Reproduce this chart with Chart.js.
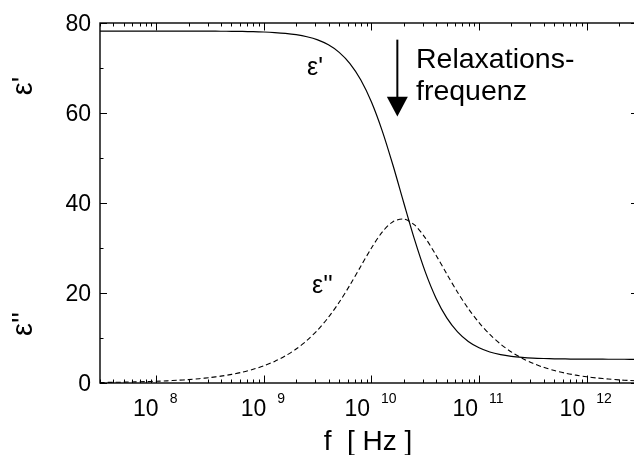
<!DOCTYPE html>
<html><head><meta charset="utf-8">
<style>
html,body{margin:0;padding:0;background:#fff;overflow:hidden;width:634px;height:455px}
#wrap{position:relative;width:642px;height:455px}
canvas{display:block}
</style>
<script src="https://cdn.jsdelivr.net/npm/chart.js@4.4.1/dist/chart.umd.min.js"></script>
</head><body><div id="wrap"><canvas id="c" width="642" height="455"></canvas></div>
<script>
// log10 of frequency in Hz
const logFreq = [7.4,7.5,7.6,7.7,7.8,7.9,8.0,8.1,8.2,8.3,8.4,8.5,8.6,8.7,8.8,8.9,9.0,9.1,9.2,9.3,9.4,9.5,9.6,9.7,9.8,9.9,10.0,10.1,10.2,10.3,10.4,10.5,10.6,10.7,10.8,10.9,11.0,11.1,11.2,11.3,11.4,11.5,11.6,11.7,11.8,11.9,12.0,12.1,12.2,12.3,12.4,12.5];
// epsilon' (solid)
const epsReal = [78.20,78.20,78.20,78.20,78.20,78.20,78.20,78.20,78.19,78.19,78.19,78.18,78.17,78.15,78.12,78.07,78.00,77.88,77.70,77.41,76.95,76.25,75.15,73.48,70.99,67.40,62.45,56.04,48.38,40.06,31.91,24.70,18.86,14.48,11.37,9.24,7.83,6.90,6.31,5.93,5.69,5.53,5.44,5.38,5.34,5.31,5.30,5.29,5.28,5.28,5.27,5.27];
// epsilon'' (dashed)
const epsImag = [0.10,0.12,0.15,0.19,0.24,0.30,0.38,0.48,0.61,0.76,0.96,1.21,1.52,1.92,2.41,3.04,3.82,4.80,6.03,7.55,9.45,11.78,14.60,17.94,21.76,25.90,30.01,33.54,35.85,36.43,35.12,32.24,28.40,24.23,20.18,16.54,13.41,10.79,8.64,6.90,5.50,4.38,3.48,2.77,2.20,1.75,1.39,1.10,0.88,0.70,0.55,0.44];
const xTickExponents = [8,9,10,11,12];
const yTickLabels = [0,20,40,60,80];
const yMinorTicks = [10,30,50,70];
const relaxFreq = 1.74e10;

const FONT = '"Liberation Sans", Arial, Helvetica, sans-serif';

const frame = {
  id: 'frame',
  afterDraw(chart) {
    const {ctx, chartArea: a, scales: {x, y}} = chart;
    ctx.save();
    ctx.strokeStyle = '#000';
    ctx.fillStyle = '#000';
    const line = (x1, y1, x2, y2) => { ctx.beginPath(); ctx.moveTo(x1, y1); ctx.lineTo(x2, y2); ctx.stroke(); };
    // frame
    ctx.lineWidth = 1.4;
    ctx.strokeRect(a.left, a.top, a.right - a.left, a.bottom - a.top);
    // x ticks (major + minor), bottom and top, pointing inwards
    ctx.lineWidth = 1;
    for (let e = 7; e <= 12; e++) {
      for (let k = 1; k <= 9; k++) {
        const v = k * Math.pow(10, e);
        if (v < x.min || v > x.max) continue;
        const px = Math.round(x.getPixelForValue(v)) + 0.5;
        const len = k === 1 ? 7.5 : 3.5;
        line(px, a.bottom, px, a.bottom - len);
        line(px, a.top, px, a.top + len);
      }
    }
    // y ticks
    const yt = yTickLabels.map(v => [v, 7]).concat(yMinorTicks.map(v => [v, 3.5]));
    for (const [v, len] of yt) {
      const py = Math.round(y.getPixelForValue(v)) + 0.5;
      line(a.left, py, a.left + len, py);
      line(a.right, py, a.right - len, py);
    }
    // y tick labels
    ctx.font = '23px ' + FONT;
    ctx.textAlign = 'right';
    ctx.textBaseline = 'middle';
    for (const v of yTickLabels) {
      ctx.fillText(String(v), a.left - 9, y.getPixelForValue(v) + 1.5);
    }
    // x tick labels: "10" with superscript exponent
    ctx.textBaseline = 'alphabetic';
    ctx.textAlign = 'left';
    for (const e of xTickExponents) {
      const px = x.getPixelForValue(Math.pow(10, e));
      ctx.font = '23px ' + FONT;
      const w1 = ctx.measureText('10').width;
      ctx.font = '14px ' + FONT;
      const w2 = ctx.measureText(String(e)).width;
      const gap = 11;
      const total = w1 + gap + w2;
      const x0 = px - total / 2 - 1;
      ctx.font = '23px ' + FONT;
      ctx.fillText('10', x0, 416);
      ctx.font = '14px ' + FONT;
      ctx.fillText(String(e), x0 + w1 + gap, 403);
    }
    // x axis title
    ctx.font = '28px ' + FONT;
    ctx.textAlign = 'center';
    ctx.fillText('f  [ Hz ]', (a.left + a.right) / 2 - 1, 450);
    // y axis titles (rotated)
    ctx.font = '29px ' + FONT;
    const rot = (t, cx, cy) => { ctx.save(); ctx.translate(cx, cy); ctx.rotate(-Math.PI / 2); ctx.textAlign = 'center'; ctx.fillText(t, 0, 0); ctx.restore(); };
    rot("\u03B5'", 32, 86);
    rot("\u03B5''", 32, 324);
    // curve labels
    ctx.font = '25px ' + FONT;
    ctx.textAlign = 'left';
    ctx.fillText("\u03B5'", 307, 75);
    ctx.fillText("\u03B5''", 312, 293);
    // annotation text
    ctx.font = '28.5px ' + FONT;
    ctx.fillText('Relaxations-', 416, 68);
    ctx.fillText('frequenz', 416, 100);
    // arrow at relaxation frequency
    const ax = x.getPixelForValue(relaxFreq);
    ctx.lineWidth = 2;
    line(ax, y.getPixelForValue(76.3), ax, y.getPixelForValue(63.0));
    const tipY = y.getPixelForValue(59.2), baseY = y.getPixelForValue(63.6);
    ctx.beginPath();
    ctx.moveTo(ax - 10.5, baseY);
    ctx.lineTo(ax + 10.5, baseY);
    ctx.lineTo(ax, tipY);
    ctx.closePath();
    ctx.fill();
    ctx.restore();
  }
};

new Chart(document.getElementById('c').getContext('2d'), {
  type: 'line',
  data: {
    datasets: [
      {
        label: "\u03B5'",
        data: logFreq.map((l, i) => ({x: Math.pow(10, l), y: epsReal[i]})),
        borderColor: '#000', borderWidth: 1.2, pointRadius: 0, tension: 0.3, fill: false
      },
      {
        label: "\u03B5''",
        data: logFreq.map((l, i) => ({x: Math.pow(10, l), y: epsImag[i]})),
        borderColor: '#000', borderWidth: 1.1, borderDash: [5, 3], pointRadius: 0, tension: 0.3, fill: false
      }
    ]
  },
  options: {
    responsive: false,
    animation: false,
    events: [],
    layout: {padding: {left: 100, right: 4, top: 23, bottom: 72}},
    plugins: {legend: {display: false}, tooltip: {enabled: false}},
    scales: {
      x: {type: 'logarithmic', min: 3e7, max: 3e12, display: false},
      y: {type: 'linear', min: 0, max: 80, display: false}
    }
  },
  plugins: [frame]
});
</script>
</body></html>
